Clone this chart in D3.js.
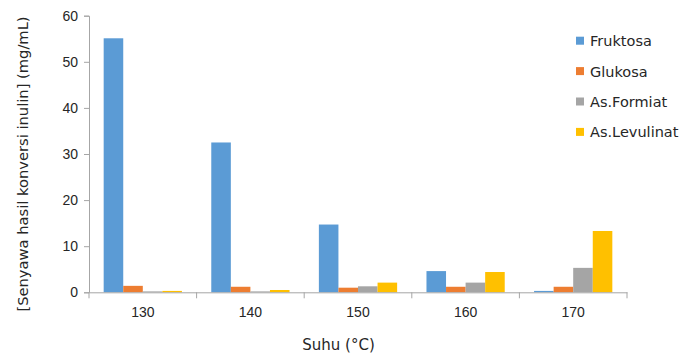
<!DOCTYPE html>
<html>
<head>
<meta charset="utf-8">
<script src="https://cdn.jsdelivr.net/npm/d3@7"></script>
<style>
  html, body { margin: 0; padding: 0; background: #fff; }
  svg { display: block; font-family: "DejaVu Sans", Verdana, sans-serif; }
</style>
</head>
<body>
<svg id="chart" width="680" height="356"></svg>
<script>
// Temperatures (°C)
const categories = ["130", "140", "150", "160", "170"];
const seriesNames = ["Fruktosa", "Glukosa", "As.Formiat", "As.Levulinat"];
// Concentrations (mg/mL) per temperature
const fruktosa    = [55.1, 32.5, 14.7, 4.6, 0.3];
const glukosa     = [1.4, 1.2, 1.0, 1.2, 1.2];
const asFormiat   = [0.2, 0.2, 1.3, 2.1, 5.3];
const asLevulinat = [0.3, 0.5, 2.1, 4.4, 13.3];
const yTicks = [0, 10, 20, 30, 40, 50, 60];
const colors = ["#5B9BD5", "#ED7D31", "#A5A5A5", "#FFC000"];

const seriesValues = [fruktosa, glukosa, asFormiat, asLevulinat];
const rows = categories.map((c, i) => ({
  cat: c,
  vals: seriesNames.map((s, j) => ({ key: s, value: seriesValues[j][i] }))
}));

const svg = d3.select("#chart");
const plotLeft = 89, plotRight = 627, plotTop = 15.7, plotBottom = 292.3;

const x = d3.scaleBand().domain(categories).range([plotLeft, plotRight]);
// within each category: 4 bars plus a 150% gap split on both sides
const xs = d3.scaleBand().domain(seriesNames)
  .range([0, x.bandwidth()])
  .paddingInner(0)
  .paddingOuter(0.75);
const y = d3.scaleLinear().domain([0, 60]).range([plotBottom, plotTop]);

const axisColor = "#A6A6A6";
const textColor = "#262626";

// Bars
svg.append("g").selectAll("g.cat").data(rows).join("g")
  .attr("class", "cat")
  .attr("transform", d => `translate(${x(d.cat)},0)`)
  .selectAll("rect").data(d => d.vals).join("rect")
  .attr("x", d => xs(d.key))
  .attr("width", xs.bandwidth())
  .attr("y", d => y(d.value))
  .attr("height", d => y(0) - y(d.value))
  .attr("fill", (d, i) => colors[i]);

// Y axis
const yAxis = svg.append("g").attr("transform", `translate(${plotLeft},0)`)
  .call(d3.axisLeft(y).tickValues(yTicks).tickSize(5).tickPadding(6).tickFormat(d3.format("d")));
yAxis.select(".domain").attr("stroke", axisColor);
yAxis.selectAll(".tick line").attr("stroke", axisColor);
yAxis.selectAll(".tick text").attr("fill", textColor).style("font-size", "14px");

// X axis
const xAxis = svg.append("g").attr("transform", `translate(0,${plotBottom})`)
  .call(d3.axisBottom(x).tickSize(0).tickPadding(15));
xAxis.select(".domain").attr("stroke", axisColor);
xAxis.selectAll(".tick text").attr("fill", textColor).style("font-size", "14px");
// category boundary ticks
const bounds = categories.map(c => x(c)).concat([x(categories[categories.length - 1]) + x.bandwidth()]);
xAxis.selectAll("line.bound").data(bounds).join("line")
  .attr("class", "bound")
  .attr("x1", d => d).attr("x2", d => d)
  .attr("y1", 0).attr("y2", 6)
  .attr("stroke", axisColor);

// Axis titles
svg.append("text")
  .attr("transform", "translate(28,164) rotate(-90)")
  .attr("text-anchor", "middle")
  .attr("fill", textColor)
  .style("font-size", "14.7px")
  .text("[Senyawa hasil konversi inulin] (mg/mL)");

svg.append("text")
  .attr("x", 338.5).attr("y", 350)
  .attr("text-anchor", "middle")
  .attr("fill", textColor)
  .style("font-size", "15px")
  .text("Suhu (°C)");

// Legend
const legend = svg.append("g").attr("transform", "translate(576,40.7)");
const item = legend.selectAll("g").data(seriesNames).join("g")
  .attr("transform", (d, i) => `translate(0,${i * 30.4})`);
item.append("rect").attr("x", 0).attr("y", -4).attr("width", 8).attr("height", 8)
  .attr("fill", (d, i) => colors[i]);
item.append("text").attr("x", 14).attr("y", 5.5)
  .attr("fill", textColor)
  .style("font-size", "14.5px")
  .text(d => d);
</script>
</body>
</html>
